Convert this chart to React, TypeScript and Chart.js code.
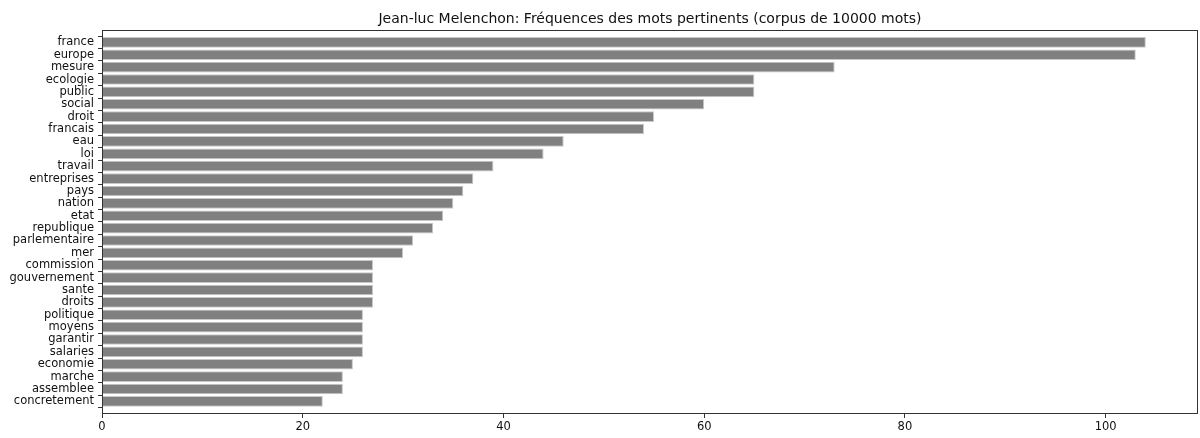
import React, { useEffect, useRef } from "react";
import { Chart, registerables } from "chart.js";

Chart.register(...registerables);

const TITLE = "Jean-luc Melenchon: Fréquences des mots pertinents (corpus de 10000 mots)";

const words = [
  "france", "europe", "mesure", "ecologie", "public", "social", "droit", "francais",
  "eau", "loi", "travail", "entreprises", "pays", "nation", "etat", "republique",
  "parlementaire", "mer", "commission", "gouvernement", "sante", "droits", "politique",
  "moyens", "garantir", "salaries", "economie", "marche", "assemblee", "concretement",
];

const counts = [
  104, 103, 73, 65, 65, 60, 55, 54,
  46, 44, 39, 37, 36, 35, 34, 33,
  31, 30, 27, 27, 27, 27, 26,
  26, 26, 26, 25, 24, 24, 22,
];

const xTicks = [0, 20, 40, 60, 80, 100];

const FONT = "'DejaVu Sans', sans-serif";

const framePlugin = {
  id: "frame",
  afterDraw(chart: any) {
    const { ctx, chartArea } = chart;
    ctx.save();
    ctx.strokeStyle = "#333";
    ctx.lineWidth = 1;
    ctx.strokeRect(
      Math.round(chartArea.left) + 0.5,
      Math.round(chartArea.top) + 0.5,
      Math.round(chartArea.right - chartArea.left) - 1,
      Math.round(chartArea.bottom - chartArea.top) - 1
    );
    ctx.restore();
  },
};

export default function App() {
  const ref = useRef<HTMLCanvasElement | null>(null);

  useEffect(() => {
    if (!ref.current) return;
    const n = words.length;
    const maxVal = Math.max(...counts);
    const chart = new Chart(ref.current, {
      type: "bar",
      data: {
        datasets: [
          {
            data: words.map((_, i) => ({ x: counts[i], y: i })),
            backgroundColor: "#808080",
            borderColor: "#c8c8c8",
            borderWidth: 1,
            barPercentage: 0.86,
            categoryPercentage: 1.0,
          },
        ],
      },
      options: {
        indexAxis: "y",
        responsive: false,
        animation: false,
        layout: { padding: { left: 0, right: 2, top: 0, bottom: 0 } },
        plugins: {
          legend: { display: false },
          tooltip: { enabled: false },
          title: {
            display: true,
            text: TITLE,
            fullSize: false,
            color: "#111",
            font: { family: FONT, size: 14, weight: "normal" },
            padding: { top: 11, bottom: 2 },
          },
        },
        scales: {
          x: {
            type: "linear",
            min: 0,
            max: maxVal * 1.05,
            afterBuildTicks: (axis: any) => {
              axis.ticks = xTicks.map((v) => ({ value: v }));
            },
            afterFit: (scale: any) => {
              scale.height = 24;
              scale.paddingLeft = 0;
              scale.paddingRight = 0;
            },
            grid: {
              drawOnChartArea: false,
              drawTicks: true,
              tickLength: 4,
              color: "#333",
            },
            border: { display: false },
            ticks: {
              color: "#111",
              padding: 2,
              maxRotation: 0,
              autoSkip: false,
              font: { family: FONT, size: 11.5 },
            },
          },
          y: {
            type: "linear",
            reverse: true,
            min: -0.5,
            max: n - 0.5,
            afterBuildTicks: (axis: any) => {
              axis.ticks = words.map((_, i) => ({ value: i }));
            },
            afterFit: (scale: any) => {
              scale.width = 102;
              scale.paddingTop = 0;
              scale.paddingBottom = 0;
            },
            grid: {
              drawOnChartArea: false,
              drawTicks: true,
              tickLength: 4,
              color: "#333",
            },
            border: { display: false },
            ticks: {
              color: "#111",
              padding: 4,
              autoSkip: false,
              font: { family: FONT, size: 11.5 },
              callback: (v: any) => {
                const i = Number(v);
                return Number.isInteger(i) && i >= 0 && i < words.length ? words[i] : "";
              },
            },
          },
        },
      },
      plugins: [framePlugin],
    } as any);
    return () => chart.destroy();
  }, []);

  return (
    <div style={{ position: "fixed", left: 0, top: 0, width: 1200, height: 438, background: "#fff" }}>
      <canvas ref={ref} width={1200} height={438} style={{ width: 1200, height: 438, display: "block" }} />
    </div>
  );
}
